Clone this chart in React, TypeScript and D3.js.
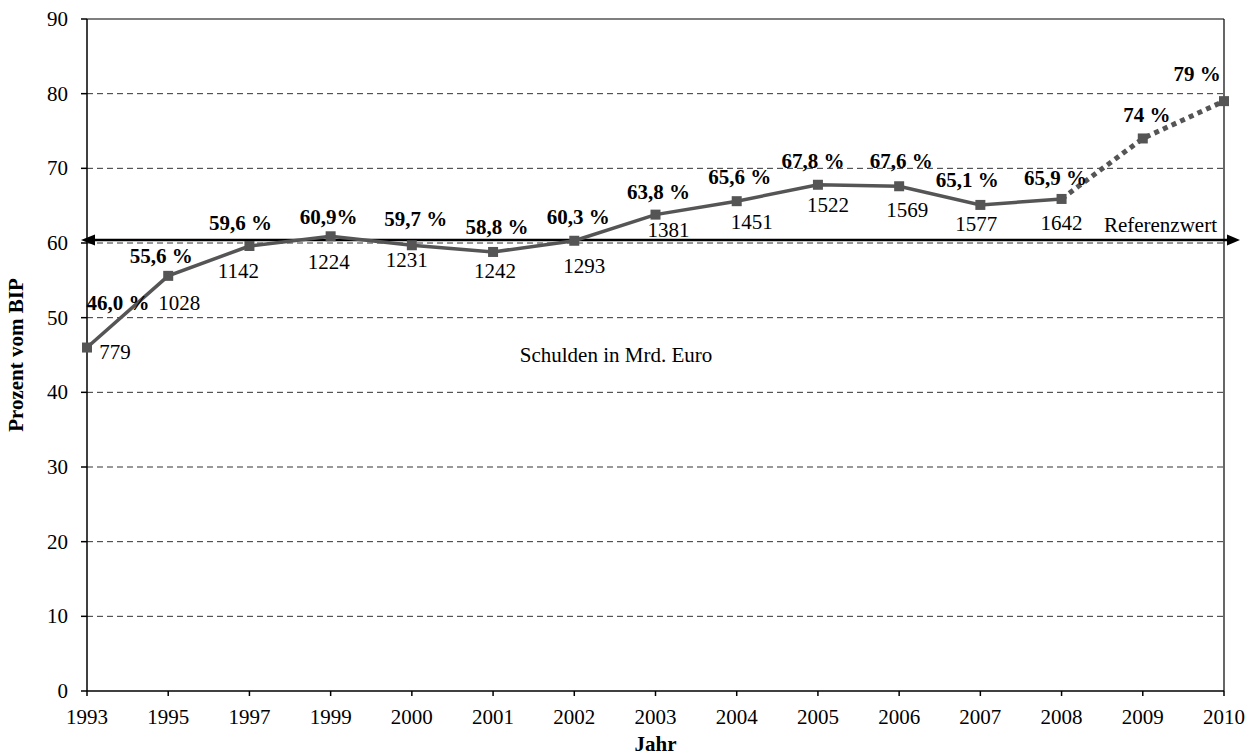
import React from "react";
import * as d3 from "d3";

const years = ["1993","1995","1997","1999","2000","2001","2002","2003","2004","2005","2006","2007","2008","2009","2010"];
const percent = [46.0, 55.6, 59.6, 60.9, 59.7, 58.8, 60.3, 63.8, 65.6, 67.8, 67.6, 65.1, 65.9, 74, 79];
const percentLabels = ["46,0 %","55,6 %","59,6 %","60,9%","59,7 %","58,8 %","60,3 %","63,8 %","65,6 %","67,8 %","67,6 %","65,1 %","65,9 %","74 %","79 %"];
const debt = [779, 1028, 1142, 1224, 1231, 1242, 1293, 1381, 1451, 1522, 1569, 1577, 1642];
const actualCount = 13; // 1993..2008 solid, 2009-2010 forecast dotted
const yTicks = [0, 10, 20, 30, 40, 50, 60, 70, 80, 90];
const referenceValue = 60.4;

// label layout offsets (pixels) of label centers relative to the point
const pctOffsets: [number, number][] = [[31,-45],[-7,-20],[-9,-23],[-2,-19],[4,-26],[4,-25],[4,-24],[3,-23],[3,-24],[-5,-24],[2,-25],[-13,-25],[-6,-21],[4,-24],[-27,-27]];
const debtOffsets: [number, number][] = [[28,4],[11,27],[-11,25],[-2,26],[-5,15],[2,19],[10,25],[13,15],[15,21],[10,20],[8,24],[-4,19],[0,24]];

const W = 1255, H = 755;
const m = { left: 87, top: 19, right: 31, bottom: 64 };
const serif = "'Liberation Serif', 'Times New Roman', serif";
const FS = 21;

export default function App() {
  const x = d3.scalePoint<string>().domain(years).range([m.left, W - m.right]);
  const y = d3.scaleLinear().domain([0, 90]).range([H - m.bottom, m.top]);
  const line = d3.line<number>().x((_, i) => x(years[i])!).y(d => y(d));
  const solidPath = line(percent.slice(0, actualCount)) || "";
  const dotted = percent.slice(actualCount - 1);
  const dottedPath = d3.line<number>().x((_, i) => x(years[i + actualCount - 1])!).y(d => y(d))(dotted) || "";
  const x0 = m.left, x1 = W - m.right, y0 = y(0), yTop = y(90);
  const ry = y(referenceValue);
  const grey = "#555555";
  return (
    <svg width={W} height={H} style={{ position: "absolute", left: 0, top: 0, background: "#fff" }} fontFamily={serif}>
      <rect x={0} y={0} width={W} height={H} fill="#fff" />
      {yTicks.filter(t => t > 0 && t < 90).map(t => (
        <line key={t} x1={x0} x2={x1} y1={y(t)} y2={y(t)} stroke="#333" strokeWidth={1} strokeDasharray="6,4" />
      ))}
      {/* frame */}
      <line x1={x0} x2={x1} y1={yTop} y2={yTop} stroke="#000" strokeWidth={1.2} />
      <line x1={x1} x2={x1} y1={yTop} y2={y0} stroke="#000" strokeWidth={1.2} />
      <line x1={x0} x2={x0} y1={yTop} y2={y0} stroke="#000" strokeWidth={1.5} />
      <line x1={x0} x2={x1} y1={y0} y2={y0} stroke="#000" strokeWidth={1.5} />
      {yTicks.map(t => (
        <g key={t}>
          <line x1={x0 - 6} x2={x0} y1={y(t)} y2={y(t)} stroke="#000" strokeWidth={1.5} />
          <text x={x0 - 19} y={y(t)} dy="0.34em" textAnchor="end" fontSize={FS}>{t}</text>
        </g>
      ))}
      {years.map(yr => (
        <g key={yr}>
          <line x1={x(yr)} x2={x(yr)} y1={y0} y2={y0 + 5} stroke="#000" strokeWidth={1.5} />
          <text x={x(yr)} y={y0 + 33} textAnchor="middle" fontSize={FS}>{yr}</text>
        </g>
      ))}
      {/* reference arrow */}
      <line x1={x0 + 2} x2={x1 + 4} y1={ry} y2={ry} stroke="#000" strokeWidth={2.5} />
      <path d={`M${x0 - 6},${ry} L${x0 + 8},${ry - 5.5} L${x0 + 8},${ry + 5.5} Z`} fill="#000" />
      <path d={`M${x1 + 16},${ry} L${x1 + 3},${ry - 5.5} L${x1 + 3},${ry + 5.5} Z`} fill="#000" />
      <text x={x1 - 7} y={ry - 8} textAnchor="end" fontSize={FS}>Referenzwert</text>
      {/* series */}
      <path d={solidPath} fill="none" stroke={grey} strokeWidth={3.5} />
      <path d={dottedPath} fill="none" stroke={grey} strokeWidth={5} strokeDasharray="5,4.5" />
      {percent.map((v, i) => (
        <rect key={i} x={x(years[i])! - 5} y={y(v) - 5} width={10} height={10} fill={grey} />
      ))}
      {percent.map((v, i) => (
        <text key={"p" + i} x={x(years[i])! + pctOffsets[i][0]} y={y(v) + pctOffsets[i][1]} dy="0.34em" textAnchor="middle" fontSize={FS} fontWeight="bold">{percentLabels[i]}</text>
      ))}
      {debt.map((v, i) => (
        <text key={"d" + i} x={x(years[i])! + debtOffsets[i][0]} y={y(percent[i]) + debtOffsets[i][1]} dy="0.34em" textAnchor="middle" fontSize={FS}>{v}</text>
      ))}
      <text x={616} y={y(50) + 37} dy="0.34em" textAnchor="middle" fontSize={FS}>Schulden in Mrd. Euro</text>
      <text transform={`translate(23,${(yTop + y0) / 2}) rotate(-90)`} textAnchor="middle" fontSize={FS} fontWeight="bold">Prozent vom BIP</text>
      <text x={(x0 + x1) / 2} y={751} textAnchor="middle" fontSize={FS} fontWeight="bold">Jahr</text>
    </svg>
  );
}
